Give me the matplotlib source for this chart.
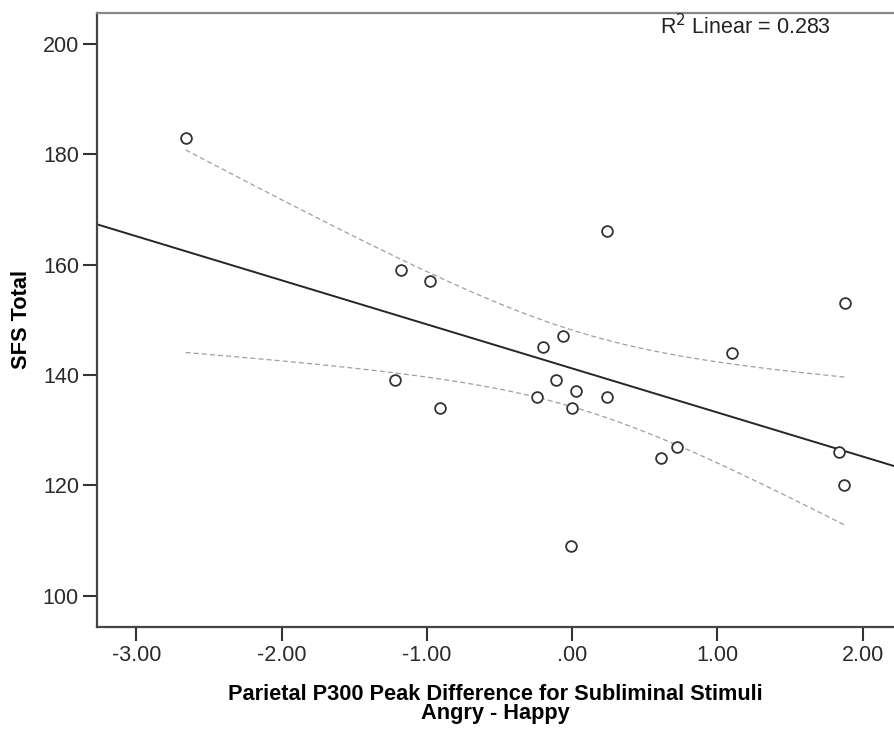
import matplotlib
matplotlib.use("Agg")
import matplotlib.pyplot as plt
import numpy as np

plt.rcParams["font.family"] = ["Liberation Sans", "DejaVu Sans"]

# P300 peak difference (Angry - Happy) vs SFS total
p300_diff = [-2.66, -1.18, -0.98, -1.22, -0.91, 0.24, -0.06, -0.20, -0.11, 0.03,
             -0.24, 0.00, 0.24, 0.72, 0.61, -0.01, 1.88, 1.10, 1.84, 1.87]
sfs_total = [183, 159, 157, 139, 134, 166, 147, 145, 139, 137,
             136, 134, 136, 127, 125, 109, 153, 144, 126, 120]

x_ticks = [-3, -2, -1, 0, 1, 2]
x_tick_labels = ["-3.00", "-2.00", "-1.00", ".00", "1.00", "2.00"]
y_ticks = [100, 120, 140, 160, 180, 200]
r2_label = "R$^2$ Linear = 0.283"

T_CRIT = 2.101  # t(0.975, df=18)

x = np.asarray(p300_diff, dtype=float)
y = np.asarray(sfs_total, dtype=float)
n = len(x)
slope, intercept = np.polyfit(x, y, 1)
resid = y - (slope * x + intercept)
s = np.sqrt(np.sum(resid ** 2) / (n - 2))
sxx = np.sum((x - x.mean()) ** 2)

fig = plt.figure(figsize=(8.94, 7.30), dpi=100)
ax = fig.add_axes([97 / 894, 1 - 626.5 / 730, 1 - 97 / 894, (626.5 - 13) / 730])

xlim = (-3.27, 2.216)
ylim = (94.4, 205.6)

# fit line across the whole axis
xl = np.linspace(xlim[0], xlim[1], 50)
ax.plot(xl, slope * xl + intercept, color="#262626", lw=1.4, zorder=2)

# 95% CI of the mean over data range
xc = np.linspace(x.min(), x.max(), 200)
se = s * np.sqrt(1 / n + (xc - x.mean()) ** 2 / sxx)
yc = slope * xc + intercept
for band in (yc + T_CRIT * se, yc - T_CRIT * se):
    ax.plot(xc, band, color="#a0a0a0", lw=0.9, ls=(0, (4, 2.5)), zorder=2)

ax.scatter(x, y, s=60, facecolors="white", edgecolors="#333333", linewidths=1.3, zorder=3)

ax.set_xlim(*xlim)
ax.set_ylim(*ylim)
ax.set_xticks(x_ticks)
ax.set_xticklabels(x_tick_labels)
ax.set_yticks(y_ticks)
ax.tick_params(direction="out", length=10, width=1.5, color="#333333",
               labelsize=15.5, labelcolor="#2a2a2a", pad=3)

for side in ("left", "bottom"):
    ax.spines[side].set_color("#444444")
    ax.spines[side].set_linewidth(1.6)
ax.spines["top"].set_color("#888888")
ax.spines["top"].set_linewidth(1.6)
ax.spines["right"].set_visible(False)

ax.set_ylabel("SFS Total", fontsize=15.7, fontweight="bold", labelpad=8)
ax.set_xlabel("Parietal P300 Peak Difference for Subliminal Stimuli\nAngry - Happy",
              fontsize=15.7, fontweight="bold", labelpad=13, linespacing=0.9)

fig.text(745 / 894, 1 - 27 / 730, r2_label, ha="center", va="center",
         fontsize=15.5, color="#222222")

fig.savefig("out.png", dpi=100)
